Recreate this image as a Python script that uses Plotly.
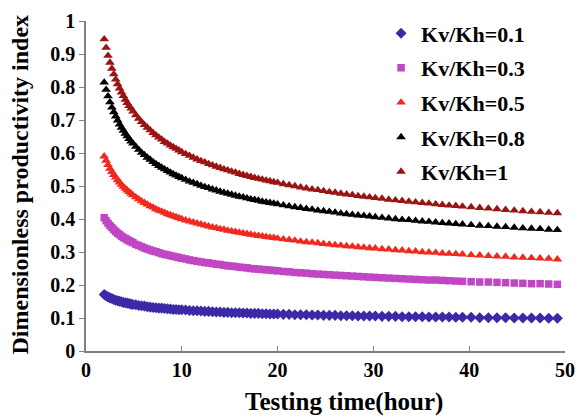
import plotly.graph_objects as go

# Testing time (hours)
time_h = [
    1.9, 2.1, 2.3, 2.5, 2.7, 2.9, 3.1, 3.3, 3.5, 3.7, 3.9, 4.1, 4.3, 4.5, 4.7, 4.9,
    5.2, 5.5, 5.8, 6.1, 6.4, 6.7, 7.0, 7.3, 7.6, 7.9, 8.2, 8.5, 8.8, 9.1, 9.4, 9.7, 10.0,
    10.4, 10.8, 11.2, 11.6, 12.0, 12.4, 12.8, 13.2, 13.6, 14.0, 14.4, 14.8, 15.2, 15.6,
    16.0, 16.4, 16.8, 17.2, 17.6, 18.0, 18.4, 18.8, 19.2, 19.6, 20.0,
    20.6, 21.2, 21.8, 22.4, 23.0, 23.6, 24.2, 24.8, 25.4, 26.0, 26.6, 27.2, 27.8, 28.4,
    29.0, 29.6, 30.2,
    30.9, 31.6, 32.3, 33.0, 33.7, 34.4, 35.1, 35.8, 36.5, 37.2, 37.9, 38.6, 39.3,
    40.2, 41.1, 42.0, 42.9, 43.8, 44.7, 45.6, 46.5, 47.4, 48.3, 49.2,
]

# Dimensionless productivity index for each permeability anisotropy ratio
pi_kv01 = [
    0.171, 0.167, 0.164, 0.161, 0.159, 0.156, 0.154, 0.152, 0.151, 0.149, 0.147, 0.146, 0.145, 0.144, 0.142, 0.141,
    0.140, 0.138, 0.137, 0.136, 0.134, 0.133, 0.132, 0.131, 0.130, 0.130, 0.129, 0.128, 0.127, 0.126, 0.126, 0.125, 0.125,
    0.124, 0.123, 0.122, 0.122, 0.121, 0.120, 0.120, 0.119, 0.118, 0.118, 0.117, 0.117, 0.116, 0.116,
    0.116, 0.115, 0.115, 0.114, 0.114, 0.114, 0.113, 0.113, 0.112, 0.112, 0.112,
    0.111, 0.111, 0.110, 0.110, 0.110, 0.109, 0.109, 0.108, 0.108, 0.108, 0.107, 0.107, 0.107, 0.106,
    0.106, 0.106, 0.106,
    0.105, 0.105, 0.105, 0.104, 0.104, 0.104, 0.104, 0.103, 0.103, 0.103, 0.103, 0.102, 0.102,
    0.102, 0.101, 0.101, 0.101, 0.101, 0.100, 0.100, 0.100, 0.100, 0.099, 0.099,
]
pi_kv03 = [
    0.404, 0.395, 0.387, 0.380, 0.374, 0.368, 0.362, 0.357, 0.353, 0.348, 0.344, 0.341, 0.337, 0.334, 0.331, 0.328,
    0.323, 0.320, 0.316, 0.312, 0.309, 0.306, 0.303, 0.301, 0.298, 0.295, 0.293, 0.291, 0.289, 0.287, 0.285, 0.283, 0.281,
    0.279, 0.276, 0.274, 0.272, 0.270, 0.268, 0.267, 0.265, 0.263, 0.262, 0.260, 0.258, 0.257, 0.256,
    0.254, 0.253, 0.252, 0.250, 0.249, 0.248, 0.247, 0.246, 0.245, 0.244, 0.243,
    0.241, 0.240, 0.238, 0.237, 0.236, 0.234, 0.233, 0.232, 0.231, 0.230, 0.229, 0.228, 0.227, 0.226,
    0.225, 0.224, 0.223,
    0.222, 0.221, 0.220, 0.219, 0.218, 0.217, 0.216, 0.215, 0.215, 0.214, 0.213, 0.212, 0.211,
    0.210, 0.209, 0.209, 0.208, 0.207, 0.206, 0.205, 0.204, 0.204, 0.203, 0.202,
]
pi_kv05 = [
    0.590, 0.577, 0.564, 0.553, 0.543, 0.534, 0.526, 0.518, 0.511, 0.504, 0.498, 0.492, 0.487, 0.482, 0.477, 0.472,
    0.466, 0.460, 0.454, 0.449, 0.444, 0.439, 0.435, 0.430, 0.426, 0.423, 0.419, 0.415, 0.412, 0.409, 0.406, 0.403, 0.400,
    0.396, 0.393, 0.390, 0.387, 0.384, 0.381, 0.378, 0.375, 0.373, 0.370, 0.368, 0.365, 0.363, 0.361,
    0.359, 0.357, 0.355, 0.353, 0.351, 0.349, 0.348, 0.346, 0.344, 0.343, 0.341,
    0.339, 0.337, 0.335, 0.332, 0.330, 0.329, 0.327, 0.325, 0.323, 0.321, 0.320, 0.318, 0.317, 0.315,
    0.314, 0.312, 0.311,
    0.309, 0.308, 0.306, 0.305, 0.303, 0.302, 0.300, 0.299, 0.298, 0.296, 0.295, 0.294, 0.293,
    0.291, 0.290, 0.288, 0.287, 0.286, 0.284, 0.283, 0.282, 0.281, 0.280, 0.278,
]
pi_kv08 = [
    0.814, 0.792, 0.772, 0.754, 0.738, 0.724, 0.711, 0.699, 0.687, 0.677, 0.668, 0.659, 0.651, 0.643, 0.635, 0.629,
    0.619, 0.610, 0.601, 0.594, 0.586, 0.580, 0.573, 0.567, 0.561, 0.556, 0.551, 0.546, 0.541, 0.536, 0.532, 0.528, 0.524,
    0.519, 0.514, 0.510, 0.506, 0.501, 0.497, 0.494, 0.490, 0.487, 0.483, 0.480, 0.477, 0.474, 0.471,
    0.468, 0.466, 0.463, 0.460, 0.458, 0.456, 0.453, 0.451, 0.449, 0.447, 0.445,
    0.442, 0.439, 0.436, 0.434, 0.431, 0.429, 0.426, 0.424, 0.422, 0.420, 0.417, 0.415, 0.413, 0.411,
    0.410, 0.408, 0.406,
    0.404, 0.402, 0.400, 0.398, 0.397, 0.395, 0.393, 0.392, 0.390, 0.388, 0.387, 0.385, 0.384,
    0.382, 0.380, 0.379, 0.377, 0.376, 0.374, 0.372, 0.371, 0.370, 0.368, 0.367,
]
pi_kv10 = [
    0.945, 0.919, 0.895, 0.874, 0.856, 0.839, 0.823, 0.809, 0.796, 0.784, 0.773, 0.762, 0.752, 0.743, 0.735, 0.726,
    0.715, 0.704, 0.694, 0.685, 0.677, 0.669, 0.661, 0.654, 0.647, 0.641, 0.634, 0.629, 0.623, 0.618, 0.613, 0.608, 0.603,
    0.597, 0.592, 0.586, 0.581, 0.576, 0.572, 0.567, 0.563, 0.559, 0.555, 0.551, 0.548, 0.544, 0.541,
    0.537, 0.534, 0.531, 0.528, 0.525, 0.522, 0.520, 0.517, 0.515, 0.512, 0.510,
    0.506, 0.503, 0.500, 0.496, 0.493, 0.490, 0.488, 0.485, 0.482, 0.480, 0.477, 0.475, 0.473, 0.470,
    0.468, 0.466, 0.464,
    0.462, 0.459, 0.457, 0.455, 0.453, 0.451, 0.449, 0.447, 0.445, 0.443, 0.441, 0.440, 0.438,
    0.436, 0.434, 0.432, 0.430, 0.428, 0.426, 0.424, 0.422, 0.421, 0.419, 0.418,
]

series_names = ["Kv/Kh=0.1", "Kv/Kh=0.3", "Kv/Kh=0.5", "Kv/Kh=0.8", "Kv/Kh=1"]
series_values = [pi_kv01, pi_kv03, pi_kv05, pi_kv08, pi_kv10]
series_colors = ["#3b2aa8", "#c046c4", "#f0281e", "#000000", "#9a1414"]
series_symbols = ["diamond", "square", "triangle-up", "triangle-up", "triangle-up"]
series_sizes = [8.5, 7.5, 8.5, 8.5, 8.5]

x_ticks = [0, 10, 20, 30, 40, 50]
y_ticks = [0, 0.1, 0.2, 0.3, 0.4, 0.5, 0.6, 0.7, 0.8, 0.9, 1]
y_tick_labels = ["0", "0.1", "0.2", "0.3", "0.4", "0.5", "0.6", "0.7", "0.8", "0.9", "1"]

x_title = "Testing time(hour)"
y_title = "Dimensionless productivity index"

SERIF = "Liberation Serif"
AXIS_GREY = "#808080"

fig = go.Figure()
for i, (name, vals, col, sym, sz) in enumerate(
        zip(series_names, series_values, series_colors, series_symbols, series_sizes)):
    fig.add_trace(go.Scatter(
        x=time_h, y=vals, mode="markers", name=name,
        legendgroup=f"g{i}",
        marker=dict(symbol=sym, size=sz, color=col, line=dict(width=0)),
    ))

axis_common = dict(
    automargin=False,
    showline=True, linecolor=AXIS_GREY, linewidth=1.5,
    ticklen=5, tickwidth=1.2, tickcolor=AXIS_GREY,
    showgrid=False, zeroline=False,
    tickfont=dict(family=SERIF, size=20, weight="bold"),
)

fig.update_layout(
    width=577, height=420,
    margin=dict(l=86, r=12, t=17, b=69),
    paper_bgcolor="white", plot_bgcolor="white",
    font=dict(family=SERIF, size=20, color="black", weight="bold"),
    showlegend=True,
    legend=dict(
        x=0.616, y=1.026, xanchor="left", yanchor="top",
        bgcolor="rgba(0,0,0,0)", borderwidth=0,
        font=dict(family=SERIF, size=22, color="black", weight="bold"),
        tracegroupgap=3, itemwidth=30,
    ),
    xaxis=dict(range=[0, 50], tickvals=x_ticks, ticktext=[str(v) for v in x_ticks],
               ticks="inside", **axis_common),
    yaxis=dict(range=[0, 1], tickvals=y_ticks, ticktext=y_tick_labels,
               ticks="outside", **axis_common),
    annotations=[
        dict(text=x_title, xref="paper", yref="paper", x=0.5386, y=-0.1557,
             xanchor="center", yanchor="middle", showarrow=False,
             font=dict(family=SERIF, size=25, weight="bold", color="black")),
        dict(text=y_title, xref="paper", yref="paper", x=-0.1378, y=0.5045,
             xanchor="center", yanchor="middle", showarrow=False, textangle=-90,
             font=dict(family=SERIF, size=24, weight="bold", color="black")),
    ],
)

fig.write_html("out.html")
